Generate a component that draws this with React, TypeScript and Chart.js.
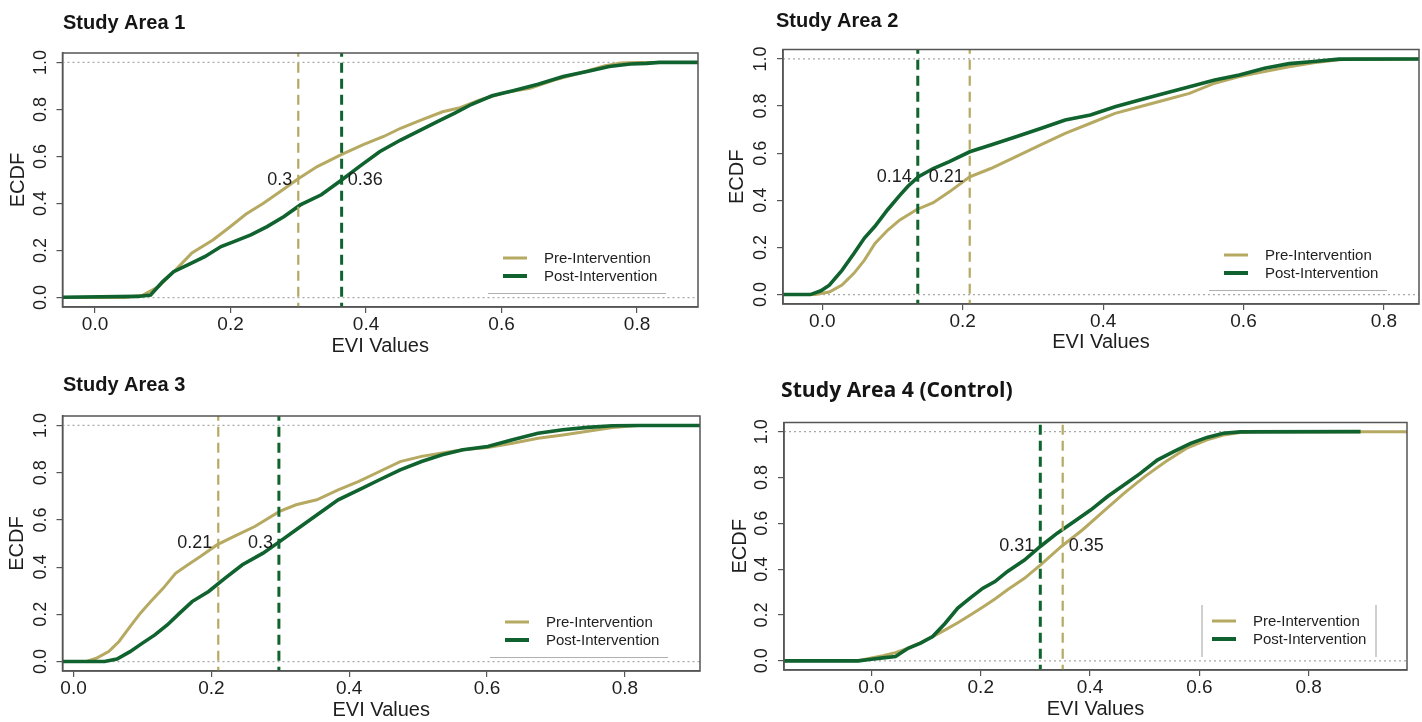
import React, { useEffect, useRef } from 'react';
import { Chart, registerables } from 'chart.js';

Chart.register(...registerables);

// ---------- shared labels ----------
const SERIES = ['Pre-Intervention', 'Post-Intervention'];
const X_TICKS = [0, 0.2, 0.4, 0.6, 0.8];
const Y_TICKS = [0, 0.2, 0.4, 0.6, 0.8, 1.0];
const X_TITLE = 'EVI Values';
const Y_TITLE = 'ECDF';

// ---------- Study Area 1 ----------
const A1_PRE_X = [-0.1, 0.045, 0.07, 0.094, 0.119, 0.143, 0.174, 0.199, 0.223, 0.248, 0.273, 0.3, 0.328, 0.365, 0.396, 0.426, 0.451, 0.482, 0.513, 0.537, 0.568, 0.605, 0.642, 0.679, 0.716, 0.753, 0.777, 0.8, 1.0];
const A1_PRE_Y = [0, 0, 0.01, 0.047, 0.118, 0.19, 0.245, 0.3, 0.355, 0.4, 0.45, 0.505, 0.557, 0.61, 0.65, 0.685, 0.72, 0.756, 0.79, 0.806, 0.84, 0.872, 0.89, 0.926, 0.955, 0.986, 0.997, 1.0, 1.0];
const A1_POST_X = [-0.1, 0.063, 0.082, 0.1, 0.116, 0.137, 0.162, 0.186, 0.205, 0.23, 0.254, 0.279, 0.303, 0.334, 0.364, 0.39, 0.42, 0.451, 0.476, 0.506, 0.531, 0.556, 0.586, 0.617, 0.654, 0.691, 0.728, 0.759, 0.79, 0.814, 0.833, 1.0];
const A1_POST_Y = [0, 0.005, 0.011, 0.068, 0.11, 0.139, 0.174, 0.217, 0.238, 0.267, 0.302, 0.345, 0.394, 0.437, 0.5, 0.557, 0.62, 0.67, 0.706, 0.749, 0.784, 0.822, 0.858, 0.88, 0.907, 0.94, 0.962, 0.983, 0.993, 0.996, 1.0, 1.0];
const A1_MEDIANS = [0.3, 0.364];
const A1_MEDIAN_LABELS = ['0.3', '0.36'];

// ---------- Study Area 2 ----------
const A2_PRE_X = [-0.2, -0.01, 0.01, 0.028, 0.045, 0.06, 0.075, 0.093, 0.11, 0.134, 0.158, 0.181, 0.21, 0.24, 0.276, 0.311, 0.346, 0.382, 0.417, 0.452, 0.488, 0.523, 0.559, 0.594, 0.63, 0.665, 0.7, 0.736, 0.759, 1.0];
const A2_PRE_Y = [0, 0, 0.011, 0.04, 0.09, 0.146, 0.217, 0.273, 0.316, 0.36, 0.39, 0.436, 0.5, 0.535, 0.585, 0.635, 0.684, 0.727, 0.769, 0.797, 0.826, 0.854, 0.897, 0.925, 0.946, 0.967, 0.984, 0.996, 1.0, 1.0];
const A2_POST_X = [-0.2, -0.017, -0.002, 0.01, 0.028, 0.045, 0.06, 0.075, 0.093, 0.11, 0.122, 0.137, 0.158, 0.181, 0.21, 0.24, 0.276, 0.311, 0.346, 0.382, 0.417, 0.452, 0.488, 0.523, 0.559, 0.594, 0.63, 0.665, 0.7, 0.736, 1.0];
const A2_POST_Y = [0, 0, 0.016, 0.04, 0.103, 0.174, 0.24, 0.29, 0.36, 0.42, 0.46, 0.5, 0.535, 0.564, 0.606, 0.635, 0.67, 0.705, 0.741, 0.762, 0.797, 0.826, 0.854, 0.882, 0.911, 0.932, 0.96, 0.98, 0.989, 0.999, 1.0];
const A2_MEDIANS = [0.21, 0.136];
const A2_MEDIAN_LABELS = ['0.21', '0.14'];

// ---------- Study Area 3 ----------
const A3_PRE_X = [-0.1, 0.018, 0.033, 0.051, 0.066, 0.082, 0.097, 0.112, 0.13, 0.148, 0.166, 0.184, 0.208, 0.233, 0.263, 0.299, 0.323, 0.353, 0.384, 0.414, 0.444, 0.474, 0.505, 0.535, 0.565, 0.601, 0.637, 0.674, 0.71, 0.746, 0.782, 0.819, 1.0];
const A3_PRE_Y = [0, 0, 0.014, 0.042, 0.085, 0.148, 0.205, 0.254, 0.31, 0.374, 0.41, 0.445, 0.494, 0.53, 0.572, 0.636, 0.664, 0.685, 0.727, 0.763, 0.805, 0.847, 0.869, 0.883, 0.897, 0.907, 0.925, 0.946, 0.96, 0.975, 0.991, 1.0, 1.0];
const A3_POST_X = [-0.1, 0.045, 0.063, 0.082, 0.1, 0.118, 0.136, 0.154, 0.172, 0.196, 0.22, 0.245, 0.275, 0.299, 0.323, 0.353, 0.384, 0.414, 0.444, 0.474, 0.505, 0.535, 0.565, 0.601, 0.637, 0.674, 0.71, 0.746, 0.782, 0.819, 1.0];
const A3_POST_Y = [0, 0, 0.011, 0.042, 0.078, 0.113, 0.155, 0.205, 0.254, 0.297, 0.353, 0.41, 0.459, 0.508, 0.558, 0.621, 0.685, 0.727, 0.77, 0.812, 0.847, 0.876, 0.897, 0.911, 0.939, 0.967, 0.982, 0.992, 0.999, 1.0, 1.0];
const A3_MEDIANS = [0.21, 0.298];
const A3_MEDIAN_LABELS = ['0.21', '0.3'];

// ---------- Study Area 4 (Control) ----------
const A4_PRE_X = [-0.3, -0.024, 0, 0.021, 0.044, 0.067, 0.09, 0.112, 0.135, 0.158, 0.181, 0.204, 0.226, 0.249, 0.28, 0.31, 0.348, 0.386, 0.424, 0.462, 0.5, 0.538, 0.576, 0.614, 0.644, 0.675, 0.705, 1.1];
const A4_PRE_Y = [0, 0, 0.012, 0.022, 0.036, 0.055, 0.08, 0.106, 0.135, 0.166, 0.2, 0.235, 0.27, 0.31, 0.36, 0.42, 0.5, 0.571, 0.651, 0.731, 0.804, 0.869, 0.927, 0.964, 0.985, 0.996, 1.0, 1.0];
const A4_POST_X = [-0.3, -0.024, 0, 0.021, 0.044, 0.067, 0.09, 0.112, 0.135, 0.158, 0.181, 0.204, 0.226, 0.249, 0.28, 0.309, 0.34, 0.371, 0.401, 0.432, 0.462, 0.492, 0.523, 0.553, 0.584, 0.614, 0.644, 0.675, 0.895];
const A4_POST_Y = [0, 0, 0.007, 0.013, 0.019, 0.055, 0.077, 0.106, 0.164, 0.23, 0.275, 0.317, 0.346, 0.39, 0.44, 0.499, 0.557, 0.608, 0.658, 0.717, 0.767, 0.818, 0.876, 0.913, 0.949, 0.975, 0.993, 0.999, 1.0];
const A4_MEDIANS = [0.35, 0.309];
const A4_MEDIAN_LABELS = ['0.35', '0.31'];

// ---------- styling ----------
const KHAKI = '#b6a961';
const GREEN = '#10622f';
const AXIS = '#555555';
const TEXT = '#1e1e1e';
const SANS = '"Liberation Sans", Arial, Helvetica, sans-serif';

type Panel = {
  title: string;
  titleFont: string;
  titleWidth?: number;
  titlePos: [number, number];
  canvas: [number, number, number, number];
  area: [number, number, number, number];
  xRange: [number, number];
  preX: number[]; preY: number[]; postX: number[]; postY: number[];
  medians: number[]; medianLabels: string[]; labelSide: ('left' | 'right')[];
  xTitlePad: number; yTitlePad: number;
  legendFrame: 'bottom' | 'sides';
};

const PANELS: Panel[] = [
  {
    title: 'Study Area 1', titleFont: `bold 20px ${SANS}`, titlePos: [63, 29],
    canvas: [0, 0, 711, 361], area: [62.5, 53, 698, 307], xRange: [-0.048, 0.89],
    preX: A1_PRE_X, preY: A1_PRE_Y, postX: A1_POST_X, postY: A1_POST_Y,
    medians: A1_MEDIANS, medianLabels: A1_MEDIAN_LABELS, labelSide: ['left', 'right'],
    xTitlePad: 3, yTitlePad: 6.5, legendFrame: 'bottom',
  },
  {
    title: 'Study Area 2', titleFont: `bold 20px ${SANS}`, titlePos: [776, 27],
    canvas: [711, 0, 711, 361], area: [783, 49.5, 1419, 304], xRange: [-0.056, 0.85],
    preX: A2_PRE_X, preY: A2_PRE_Y, postX: A2_POST_X, postY: A2_POST_Y,
    medians: A2_MEDIANS, medianLabels: A2_MEDIAN_LABELS, labelSide: ['left', 'left'],
    xTitlePad: 7, yTitlePad: 14, legendFrame: 'bottom',
  },
  {
    title: 'Study Area 3', titleFont: `bold 20px ${SANS}`, titlePos: [63, 391],
    canvas: [0, 361, 711, 361], area: [62.5, 416, 700, 671], xRange: [-0.016, 0.909],
    preX: A3_PRE_X, preY: A3_PRE_Y, postX: A3_POST_X, postY: A3_POST_Y,
    medians: A3_MEDIANS, medianLabels: A3_MEDIAN_LABELS, labelSide: ['left', 'left'],
    xTitlePad: 0, yTitlePad: 5.5, legendFrame: 'bottom',
  },
  {
    title: 'Study Area 4 (Control)', titleFont: `bold 20px "Open Sans", Lato, sans-serif`, titleWidth: 232, titlePos: [781, 397],
    canvas: [711, 361, 711, 361], area: [784, 422.5, 1407, 670], xRange: [-0.16, 0.98],
    preX: A4_PRE_X, preY: A4_PRE_Y, postX: A4_POST_X, postY: A4_POST_Y,
    medians: A4_MEDIANS, medianLabels: A4_MEDIAN_LABELS, labelSide: ['right', 'left'],
    xTitlePad: 0.5, yTitlePad: 17.5, legendFrame: 'sides',
  },
];

const toPoints = (xs: number[], ys: number[]) => xs.map((x, i) => ({ x, y: ys[i] }));

function makeChart(canvas: HTMLCanvasElement, p: Panel) {
  const [cx, cy, cw, ch] = p.canvas;
  const [L, T, R, B] = p.area;
  const [xmin, xmax] = p.xRange;

  const datasets: any[] = [
    {
      label: 'median-post', data: [{ x: p.medians[1], y: -0.2 }, { x: p.medians[1], y: 1.2 }],
      borderColor: GREEN, borderWidth: 3, borderDash: [10, 6], clip: 0,
    },
    {
      label: 'median-pre', data: [{ x: p.medians[0], y: -0.2 }, { x: p.medians[0], y: 1.2 }],
      borderColor: KHAKI, borderWidth: 2.2, borderDash: [10, 6], clip: 0,
    },
    { label: SERIES[1], data: toPoints(p.postX, p.postY), borderColor: GREEN, borderWidth: 3.6, clip: 0 },
    { label: SERIES[0], data: toPoints(p.preX, p.preY), borderColor: KHAKI, borderWidth: 3, clip: 0 },
    {
      label: 'ref-0', data: [{ x: xmin, y: 0 }, { x: xmax, y: 0 }],
      borderColor: '#a8a8a8', borderWidth: 1.2, borderDash: [2, 3], clip: 0,
    },
    {
      label: 'ref-1', data: [{ x: xmin, y: 1 }, { x: xmax, y: 1 }],
      borderColor: '#a8a8a8', borderWidth: 1.2, borderDash: [2, 3], clip: 0,
    },
  ];

  const decorations = {
    id: 'decorations',
    afterDatasetsDraw(chart: any) {
      const ctx = chart.ctx;
      const a = chart.chartArea;
      const xs = chart.scales.x;
      const ys = chart.scales.y;
      ctx.save();
      // plot box
      ctx.strokeStyle = AXIS;
      ctx.lineWidth = 1.5;
      ctx.setLineDash([]);
      ctx.strokeRect(a.left, a.top, a.right - a.left, a.bottom - a.top);

      // median labels
      ctx.font = `18px ${SANS}`;
      ctx.fillStyle = TEXT;
      ctx.textBaseline = 'middle';
      const yMid = ys.getPixelForValue(0.5);
      p.medians.forEach((m, i) => {
        const px = xs.getPixelForValue(m);
        if (p.labelSide[i] === 'left') {
          ctx.textAlign = 'right';
          ctx.fillText(p.medianLabels[i], px - 6, yMid);
        } else {
          ctx.textAlign = 'left';
          ctx.fillText(p.medianLabels[i], px + 6, yMid);
        }
      });

      // legend
      const lx0 = a.right - 195;
      const lx1 = a.right - 171;
      const rows = [
        { y: a.bottom - 49, color: KHAKI, w: 3, text: SERIES[0] },
        { y: a.bottom - 31, color: GREEN, w: 4, text: SERIES[1] },
      ];
      ctx.font = `15px ${SANS}`;
      ctx.textAlign = 'left';
      rows.forEach((r) => {
        ctx.strokeStyle = r.color;
        ctx.lineWidth = r.w;
        ctx.beginPath();
        ctx.moveTo(lx0, r.y);
        ctx.lineTo(lx1, r.y);
        ctx.stroke();
        ctx.fillStyle = TEXT;
        ctx.fillText(r.text, a.right - 154, r.y + 0.5);
      });
      ctx.strokeStyle = '#b0b0b0';
      ctx.lineWidth = 1.2;
      ctx.beginPath();
      if (p.legendFrame === 'bottom') {
        ctx.moveTo(a.right - 210, a.bottom - 13.5);
        ctx.lineTo(a.right - 32, a.bottom - 13.5);
      } else {
        ctx.moveTo(a.right - 205, a.bottom - 65);
        ctx.lineTo(a.right - 205, a.bottom - 13);
        ctx.moveTo(a.right - 31, a.bottom - 65);
        ctx.lineTo(a.right - 31, a.bottom - 13);
      }
      ctx.stroke();

      // panel title
      let font = p.titleFont;
      ctx.font = font;
      if (p.titleWidth) {
        const w = ctx.measureText(p.title).width;
        const size = Math.max(12, Math.min(28, 20 * p.titleWidth / w));
        font = p.titleFont.replace('20px', `${size.toFixed(1)}px`);
        ctx.font = font;
      }
      ctx.fillStyle = '#151515';
      ctx.textAlign = 'left';
      ctx.textBaseline = 'alphabetic';
      ctx.fillText(p.title, p.titlePos[0] - cx, p.titlePos[1] - cy);
      ctx.restore();
    },
  };

  return new Chart(canvas, {
    type: 'line',
    data: { datasets },
    options: {
      animation: false,
      responsive: false,
      events: [],
      elements: { point: { radius: 0 }, line: { tension: 0, fill: false } },
      layout: { padding: { left: 0, top: T - cy, right: cx + cw - R, bottom: 0 } },
      plugins: { legend: { display: false }, tooltip: { enabled: false }, title: { display: false } },
      scales: {
        x: {
          type: 'linear', min: xmin, max: xmax,
          afterFit: (s: any) => { s.height = cy + ch - B; },
          afterBuildTicks: (s: any) => { s.ticks = X_TICKS.map((v) => ({ value: v })); },
          ticks: {
            autoSkip: false, maxRotation: 0, padding: 0, color: TEXT,
            font: { family: SANS, size: 19 },
            callback: (v: any) => Number(v).toFixed(1),
          },
          grid: { drawOnChartArea: false, drawTicks: true, tickLength: 6, color: AXIS, lineWidth: 1.2 },
          border: { display: true, color: AXIS, width: 1.5 },
          title: {
            display: true, text: X_TITLE, color: TEXT,
            font: { family: SANS, size: 20 }, padding: { top: 0, bottom: p.xTitlePad },
          },
        },
        y: {
          type: 'linear', min: -0.04, max: 1.04,
          afterFit: (s: any) => { s.width = L - cx; },
          afterBuildTicks: (s: any) => { s.ticks = Y_TICKS.map((v) => ({ value: v })); },
          ticks: {
            autoSkip: false, minRotation: 90, maxRotation: 90, crossAlign: 'center', padding: 3,
            color: TEXT, font: { family: SANS, size: 18 },
            callback: (v: any) => Number(v).toFixed(1),
          },
          grid: { drawOnChartArea: false, drawTicks: true, tickLength: 6, color: AXIS, lineWidth: 1.2 },
          border: { display: true, color: AXIS, width: 1.5 },
          title: {
            display: true, text: Y_TITLE, color: TEXT,
            font: { family: SANS, size: 20 }, padding: { top: p.yTitlePad, bottom: 0 },
          },
        },
      },
    } as any,
    plugins: [decorations],
  });
}

function PanelChart({ panel }: { panel: Panel }) {
  const ref = useRef<HTMLCanvasElement>(null);
  useEffect(() => {
    if (!ref.current) return;
    const chart = makeChart(ref.current, panel);
    return () => chart.destroy();
  }, [panel]);
  const [x, y, w, h] = panel.canvas;
  return (
    <canvas
      ref={ref}
      width={w}
      height={h}
      style={{ position: 'absolute', left: x, top: y, width: w, height: h }}
    />
  );
}

export default function App() {
  return (
    <div style={{ position: 'absolute', left: 0, top: 0, width: 1422, height: 722, background: '#ffffff', overflow: 'hidden' }}>
      {PANELS.map((p) => (
        <PanelChart key={p.title} panel={p} />
      ))}
    </div>
  );
}
